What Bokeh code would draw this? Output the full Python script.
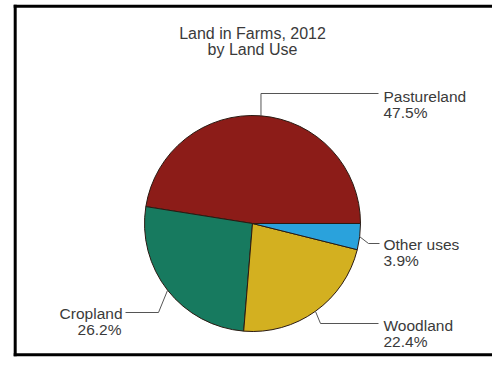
import math
from bokeh.plotting import figure
from bokeh.models import Range1d, ColumnDataSource
from bokeh.core.properties import value
from bokeh.embed import file_html
from bokeh.resources import INLINE

# ---- data ----
categories = ["Pastureland", "Cropland", "Woodland", "Other uses"]
shares = [47.5, 26.2, 22.4, 3.9]
colors = ["#8C1C18", "#177A5F", "#D3B020", "#2AA2DC"]
title_lines = ["Land in Farms, 2012", "by Land Use"]

W, H = 492, 366
cx, cy, R = 252, H - 223, 108

total = sum(shares)
starts, ends = [], []
acc = 0.0
for s in shares:
    starts.append(2 * math.pi * acc / total)
    acc += s
    ends.append(2 * math.pi * acc / total)
mids = [(a + b) / 2 for a, b in zip(starts, ends)]

p = figure(width=W, height=H, x_range=Range1d(0, W), y_range=Range1d(0, H),
           output_backend="svg", toolbar_location=None,
           x_axis_location=None, y_axis_location=None, min_border=0)
p.grid.visible = False
p.outline_line_color = None
p.background_fill_color = "white"
p.border_fill_color = "white"

# frame (left, top, bottom; right side lies outside the window)
p.multi_line(xs=[[14.7, 14.7], [13.2, 520], [13.2, 520]],
             ys=[[H - 4.2, H - 355.8], [H - 5.7, H - 5.7], [H - 354.3, H - 354.3]],
             line_color="black", line_width=3)

src = ColumnDataSource(dict(start=starts, end=ends, color=colors, cat=categories))
p.wedge(x=cx, y=cy, radius=R, start_angle="start", end_angle="end",
        fill_color="color", line_color="#2a1a12", line_width=1, source=src)

def edge(i):
    return cx + R * math.cos(mids[i]), cy + R * math.sin(mids[i])

lead_col = "#555555"
# Pastureland leader
x0, y0 = edge(0)
p.line([x0, x0, 378], [y0, H - 93, H - 93], line_color=lead_col, line_width=1)
# Cropland leader
x0, y0 = edge(1)
p.line([x0, 158, 125], [y0, H - 312, H - 312], line_color=lead_col, line_width=1)
# Woodland leader
x0, y0 = edge(2)
p.line([x0, 320, 378], [y0, H - 323, H - 323], line_color=lead_col, line_width=1)
# Other uses leader
x0, y0 = edge(3)
p.line([x0, 368, 379], [y0, H - 243, H - 243], line_color=lead_col, line_width=1)

font = value("Liberation Sans")
tcol = "#3a3a3a"
fs = "15.5px"

# title
p.text(x=[252, 252], y=[H - 33, H - 49], text=title_lines, text_font=font,
       text_font_size="16px", text_color=tcol, text_align="center",
       text_baseline="alphabetic")

pct = [f"{s:.1f}%" for s in shares]
# right-side labels
lab_x = [383, 383, 383]
idx = [0, 2, 3]
base = [96, 325, 243.5]
for k, i in enumerate(idx):
    p.text(x=[lab_x[k], lab_x[k]], y=[H - base[k], H - base[k] - 16],
           text=[categories[i], pct[i]], text_font=font, text_font_size=fs,
           text_color=tcol, text_align="left", text_baseline="alphabetic")
# Cropland (left side)
p.text(x=[122, 121], y=[H - 313, H - 329], text=[categories[1], pct[1]],
       text_font=font, text_font_size=fs, text_color=tcol,
       text_align="right", text_baseline="alphabetic")

open("out.html", "w").write(file_html(p, INLINE))
